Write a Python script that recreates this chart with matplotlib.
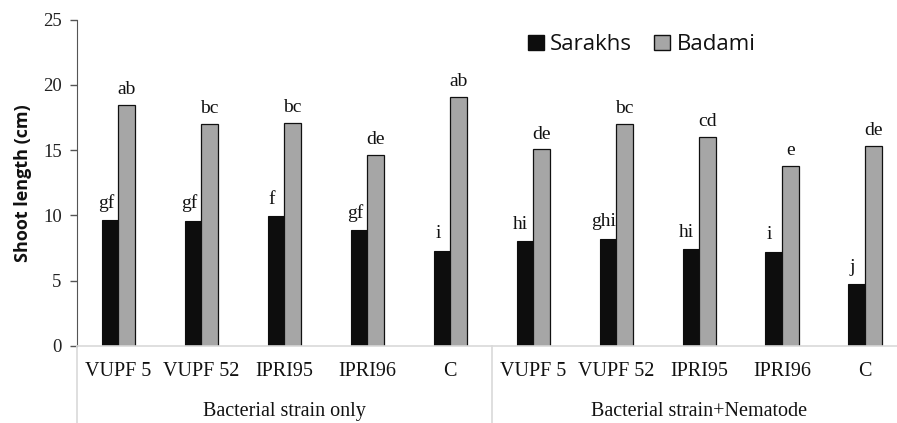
import matplotlib
matplotlib.use("Agg")
import matplotlib.pyplot as plt
import matplotlib.transforms as mtransforms
from matplotlib.patches import Patch
import numpy as np

categories = ["VUPF5", "VUPF52", "IPRI95", "IPRI96", "C",
              "VUPF5", "VUPF52", "IPRI95", "IPRI96", "C"]
tick_labels = ["VUPF 5", "VUPF 52", "IPRI95", "IPRI96", "C",
               "VUPF 5", "VUPF 52", "IPRI95", "IPRI96", "C"]
groups = ["Bacterial strain only", "Bacterial strain+Nematode"]
sarakhs = [9.65, 9.6, 9.95, 8.85, 7.3, 8.0, 8.2, 7.4, 7.2, 4.7]
badami = [18.45, 17.0, 17.1, 14.6, 19.05, 15.05, 17.0, 16.0, 13.8, 15.3]
sarakhs_letters = ["gf", "gf", "f", "gf", "i", "hi", "ghi", "hi", "i", "j"]
badami_letters = ["ab", "bc", "bc", "de", "ab", "de", "bc", "cd", "e", "de"]

serif = ["Liberation Serif", "DejaVu Serif"]
sans = ["Open Sans", "DejaVu Sans"]

fig = plt.figure(figsize=(8.97, 4.23), dpi=100)
ax = fig.add_axes([77 / 897, (423 - 345.7) / 423, 829.5 / 897, 326 / 423])

x = np.arange(len(categories))
w = 0.2
ax.bar(x - w / 2, sarakhs, width=w, color="#0d0d0d", edgecolor="#0d0d0d", linewidth=0.8, label="Sarakhs")
ax.bar(x + w / 2, badami, width=w, color="#a6a6a6", edgecolor="#111111", linewidth=0.9, label="Badami")

for xi, v, t in zip(x, sarakhs, sarakhs_letters):
    ax.annotate(t, (xi - w / 2, v), xytext=(-3, 6), textcoords="offset points",
                ha="center", va="bottom", fontsize=14, family=serif, color="#111111")
for xi, v, t in zip(x, badami, badami_letters):
    ax.annotate(t, (xi + w / 2, v), xytext=(0, 5), textcoords="offset points",
                ha="center", va="bottom", fontsize=14, family=serif, color="#111111")

ax.set_xlim(-0.5, len(categories) - 0.5)
ax.set_ylim(0, 25)
ax.set_yticks([0, 5, 10, 15, 20, 25])
ax.set_xticks(x)
ax.set_xticklabels(tick_labels, family=serif, fontsize=14.5, color="#111111")
ax.tick_params(axis="x", length=0, pad=12)
ax.tick_params(axis="y", length=5, width=1, color="#555555", labelsize=13.5, pad=6, labelcolor="#222222")
for lab in ax.get_yticklabels():
    lab.set_family(serif)

ax.spines["top"].set_visible(False)
ax.spines["right"].set_visible(False)
ax.spines["left"].set_color("#555555")
ax.spines["bottom"].set_color("#d9d9d9")
ax.spines["bottom"].set_linewidth(1.2)

ax.set_ylabel("Shoot length (cm)", family=sans, fontweight="bold", fontsize=13, color="#111111", labelpad=8)

trans = mtransforms.blended_transform_factory(ax.transData, ax.transAxes)
for xs in [-0.5, 4.5]:
    ax.plot([xs, xs], [0, -0.25], transform=trans, color="#d9d9d9", lw=1.2, clip_on=False)
for gi, g in enumerate(groups):
    ax.text(gi * 5 + 2, -0.203, g, transform=trans, ha="center", va="center",
            family=serif, fontsize=14.5, color="#111111")

handles = [Patch(facecolor="#0d0d0d", edgecolor="#0d0d0d"),
           Patch(facecolor="#a6a6a6", edgecolor="#111111")]
leg = ax.legend(handles, ["Sarakhs", "Badami"], loc="center left",
                bbox_to_anchor=(508 / 897, 1 - 45 / 423), bbox_transform=fig.transFigure,
                ncol=2, frameon=False, prop={"family": sans, "size": 16},
                handlelength=0.7, handleheight=0.7, handletextpad=0.3, columnspacing=1.0)
for t in leg.get_texts():
    t.set_color("#111111")

fig.savefig("out.png", dpi=100)
